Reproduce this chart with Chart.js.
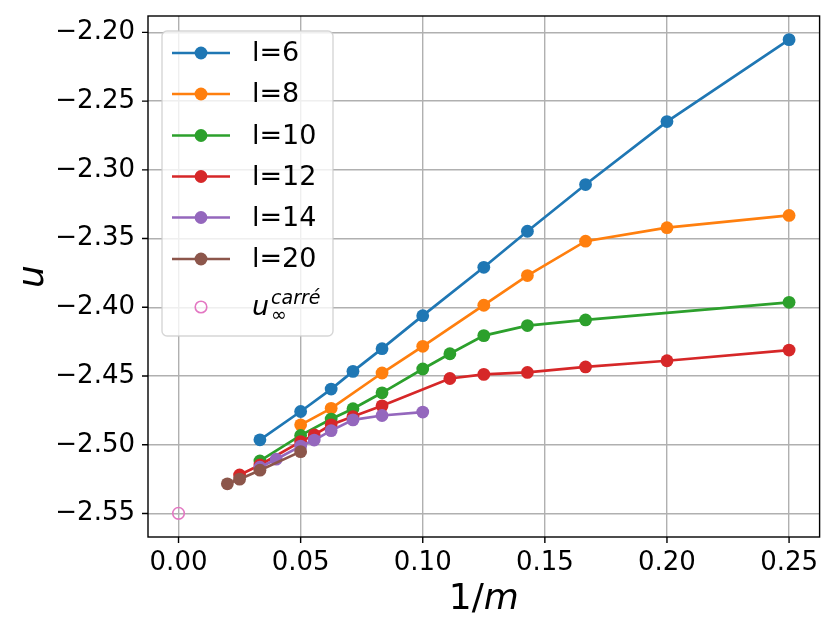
<!DOCTYPE html>
<html>
<head>
<meta charset="utf-8">
<script src="https://cdn.jsdelivr.net/npm/chart.js@4/dist/chart.umd.min.js"></script>
<style>
  body { margin: 0; background: #fff; }
  #wrap { width: 827px; height: 617px; }
</style>
</head>
<body>
<div id="wrap"><canvas id="energyChart" width="827" height="617"></canvas></div>
<script>
// system sizes m for each strip width l, and the energies u measured there
const mL6 = [4, 5, 6, 7, 8, 10, 12, 14, 16, 20, 30];
const uL6 = [-2.2053, -2.2649, -2.3107, -2.3447, -2.3709, -2.4061, -2.4301, -2.4466, -2.4595, -2.4758, -2.4964];

const mL8 = [4, 5, 6, 7, 8, 10, 12, 16, 20];
const uL8 = [-2.3332, -2.3421, -2.3519, -2.3769, -2.3985, -2.4284, -2.4478, -2.4735, -2.4855];

const mL10 = [4, 6, 7, 8, 9, 10, 12, 14, 16, 20, 30];
const uL10 = [-2.3964, -2.4092, -2.4133, -2.4206, -2.4338, -2.4449, -2.4622, -2.4738, -2.4813, -2.4932, -2.5118];

const mL12 = [4, 5, 6, 7, 8, 9, 12, 14, 16, 18, 20, 30, 40];
const uL12 = [-2.4311, -2.4389, -2.4434, -2.4474, -2.4488, -2.4518, -2.4717, -2.4795, -2.4855, -2.4928, -2.4977, -2.5147, -2.5220];

const mL14 = [10, 12, 14, 16, 18, 20, 25, 30];
const uL14 = [-2.4762, -2.4787, -2.4819, -2.4897, -2.4966, -2.5010, -2.5105, -2.5163];

const mL20 = [20, 30, 40, 50];
const uL20 = [-2.5050, -2.5185, -2.5250, -2.5284];

// extrapolated square-lattice value at 1/m = 0
const uInfX = [0];
const uInfY = [-2.5499];

const seriesLabels = ['l=6', 'l=8', 'l=10', 'l=12', 'l=14', 'l=20'];
const seriesColors = ['#1f77b4', '#ff7f0e', '#2ca02c', '#d62728', '#9467bd', '#8c564b'];
const infColor = '#e377c2';

const xTicks = [0.00, 0.05, 0.10, 0.15, 0.20, 0.25];
const yTicks = [-2.55, -2.50, -2.45, -2.40, -2.35, -2.30, -2.25, -2.20];

const FONT = "'DejaVu Sans', sans-serif";
Chart.defaults.font.family = FONT;

const MARK_R = 6.4;
const TICK_LEN = 6;

function toPoints(ms, us) {
    return ms.map((m, i) => ({ x: 1 / m, y: us[i] }));
}

const series = [[mL6, uL6], [mL8, uL8], [mL10, uL10], [mL12, uL12], [mL14, uL14], [mL20, uL20]];

const datasets = series.map(([ms, us], i) => ({
    label: seriesLabels[i],
    data: toPoints(ms, us),
    showLine: true,
    borderColor: seriesColors[i],
    backgroundColor: seriesColors[i],
    borderWidth: 2.7,
    pointRadius: MARK_R,
    pointBorderWidth: 0,
    pointHoverRadius: MARK_R,
    order: 10 - i
}));

datasets.push({
    label: 'uinf',
    data: uInfX.map((x, i) => ({ x: x, y: uInfY[i] })),
    showLine: false,
    borderColor: infColor,
    backgroundColor: 'rgba(0,0,0,0)',
    pointRadius: 5.8,
    pointBorderWidth: 1.6,
    order: 1
});

const minus = v => v.toFixed(2).replace('-', '\u2212');

// frame, tick marks, axis titles and legend box
const decorPlugin = {
    id: 'decor',
    afterDraw(chart) {
        const { ctx, chartArea: a } = chart;
        const sx = chart.scales.x, sy = chart.scales.y;
        ctx.save();

        ctx.strokeStyle = '#000';
        ctx.lineWidth = 1.4;
        ctx.strokeRect(a.left, a.top, a.right - a.left, a.bottom - a.top);

        ctx.beginPath();
        xTicks.forEach(v => {
            const px = sx.getPixelForValue(v);
            ctx.moveTo(px, a.bottom);
            ctx.lineTo(px, a.bottom + TICK_LEN);
        });
        yTicks.forEach(v => {
            const py = sy.getPixelForValue(v);
            ctx.moveTo(a.left - TICK_LEN, py);
            ctx.lineTo(a.left, py);
        });
        ctx.stroke();

        // x title: 1/m
        ctx.fillStyle = '#000';
        ctx.textBaseline = 'alphabetic';
        ctx.textAlign = 'left';
        ctx.font = `36px ${FONT}`;
        const w1 = ctx.measureText('1/').width;
        ctx.font = `italic 36px ${FONT}`;
        const w2 = ctx.measureText('m').width;
        const x0 = (a.left + a.right) / 2 - (w1 + w2) / 2;
        ctx.font = `36px ${FONT}`;
        ctx.fillText('1/', x0, 609);
        ctx.font = `italic 36px ${FONT}`;
        ctx.fillText('m', x0 + w1, 609);

        // y title: u
        ctx.save();
        ctx.translate(43, (a.top + a.bottom) / 2);
        ctx.rotate(-Math.PI / 2);
        ctx.textAlign = 'center';
        ctx.font = `italic 36px ${FONT}`;
        ctx.fillText('u', 0, 0);
        ctx.restore();

        // legend
        const bx = 162, by = 31, bw = 171, bh = 305, r = 5;
        ctx.beginPath();
        ctx.roundRect(bx, by, bw, bh, r);
        ctx.fillStyle = 'rgba(255,255,255,0.8)';
        ctx.fill();
        ctx.strokeStyle = 'rgba(204,204,204,0.8)';
        ctx.lineWidth = 1.4;
        ctx.stroke();

        const rowY = [53, 94, 135.5, 176.5, 217.5, 259];
        ctx.font = `27px ${FONT}`;
        ctx.textAlign = 'left';
        ctx.textBaseline = 'middle';
        seriesLabels.forEach((lab, i) => {
            const y = rowY[i];
            ctx.strokeStyle = seriesColors[i];
            ctx.lineWidth = 2.7;
            ctx.beginPath();
            ctx.moveTo(172, y);
            ctx.lineTo(230, y);
            ctx.stroke();
            ctx.fillStyle = seriesColors[i];
            ctx.beginPath();
            ctx.arc(201, y, MARK_R, 0, Math.PI * 2);
            ctx.fill();
            ctx.fillStyle = '#000';
            ctx.fillText(lab, 252, y + 1);
        });

        // open marker entry with u_inf^carré
        const yInf = 307;
        ctx.strokeStyle = infColor;
        ctx.lineWidth = 1.6;
        ctx.beginPath();
        ctx.arc(201, yInf, 5.8, 0, Math.PI * 2);
        ctx.stroke();
        ctx.fillStyle = '#000';
        ctx.textBaseline = 'alphabetic';
        ctx.font = `italic 27px ${FONT}`;
        ctx.fillText('u', 252, 315);
        const uw = ctx.measureText('u').width;
        ctx.font = `19px ${FONT}`;
        ctx.fillText('\u221e', 252 + uw + 2, 321);
        ctx.font = `italic 19px ${FONT}`;
        ctx.fillText('carr\u00e9', 252 + uw + 2, 304);

        ctx.restore();
    }
};

new Chart(document.getElementById('energyChart'), {
    type: 'scatter',
    data: { datasets: datasets },
    options: {
        responsive: false,
        animation: false,
        layout: { padding: { left: 0, right: 3, top: 16, bottom: 0 } },
        plugins: {
            legend: { display: false },
            tooltip: { enabled: false }
        },
        scales: {
            x: {
                type: 'linear',
                min: -0.0125,
                max: 0.2625,
                afterBuildTicks: s => { s.ticks = xTicks.map(v => ({ value: v })); },
                afterFit: s => {
                    s.height = 80;
                    s.paddingLeft = 0;
                    s.paddingRight = 0;
                },
                grid: {
                    color: '#b0b0b0',
                    lineWidth: 1.4,
                    drawTicks: true,
                    tickLength: 11,
                    tickColor: 'rgba(0,0,0,0)'
                },
                border: { display: false },
                ticks: {
                    color: '#000',
                    padding: 0,
                    maxRotation: 0,
                    font: { size: 26 },
                    callback: v => v.toFixed(2)
                }
            },
            y: {
                type: 'linear',
                min: -2.5671,
                max: -2.1881,
                afterBuildTicks: s => { s.ticks = yTicks.map(v => ({ value: v })); },
                afterFit: s => {
                    s.width = 148;
                    s.paddingTop = 0;
                    s.paddingBottom = 0;
                },
                grid: {
                    color: '#b0b0b0',
                    lineWidth: 1.4,
                    drawTicks: true,
                    tickLength: 13,
                    tickColor: 'rgba(0,0,0,0)'
                },
                border: { display: false },
                ticks: {
                    color: '#000',
                    padding: 0,
                    font: { size: 26, lineHeight: 1 },
                    callback: v => minus(v)
                }
            }
        }
    },
    plugins: [decorPlugin]
});
</script>
</body>
</html>
